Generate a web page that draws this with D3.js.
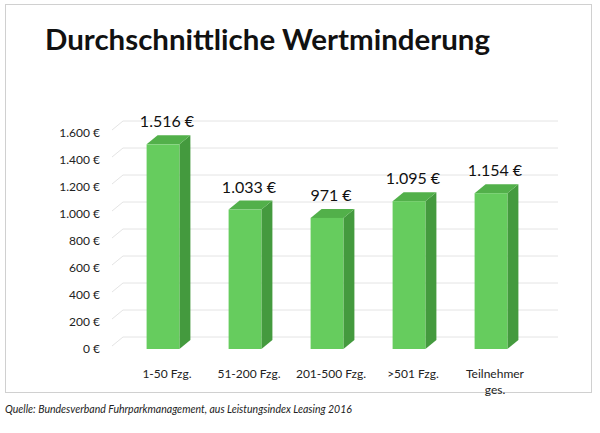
<!DOCTYPE html><html><head><meta charset="utf-8"><script src="https://cdn.jsdelivr.net/npm/d3@7"></script>
<style>body{margin:0;background:#fff}</style></head><body><svg id="c" width="600" height="433"></svg>
<script>
const categories=["1-50 Fzg.","51-200 Fzg.","201-500 Fzg.",">501 Fzg.","Teilnehmer|ges."];
const values=[1516,1033,971,1095,1154];
const valueLabels=["1.516 €","1.033 €","971 €","1.095 €","1.154 €"];
const ticks=[0,200,400,600,800,1000,1200,1400,1600];
const tickLabels=["0 €","200 €","400 €","600 €","800 €","1.000 €","1.200 €","1.400 €","1.600 €"];
const svg=d3.select("#c");const F="Lato,Calibri,sans-serif";
svg.append("rect").attr("x",5.5).attr("y",4.5).attr("width",586).attr("height",388).attr("fill","#fff").attr("stroke","#d0d0d0");
svg.append("text").attr("x",45).attr("y",50).attr("font-family",F).attr("font-weight","bold").attr("font-size",29).attr("fill","#111").attr("textLength",445).attr("lengthAdjust","spacingAndGlyphs").text("Durchschnittliche Wertminderung");
const y=d3.scaleLinear().domain([0,1600]).range([349,133]);
const x=d3.scaleBand().domain(categories).range([122,532]).paddingInner(0.6).paddingOuter(0.3);
const dx=11,dy=9;
ticks.forEach((t,i)=>{const yy=y(t);
 svg.append("line").attr("x1",112).attr("y1",yy-3).attr("x2",112+dx).attr("y2",yy-3-dy).attr("stroke","#e4e4e4");
 svg.append("line").attr("x1",112+dx).attr("y1",yy-3-dy).attr("x2",558).attr("y2",yy-3-dy).attr("stroke","#e4e4e4");
 svg.append("text").attr("x",100).attr("y",yy+4).attr("text-anchor","end").attr("font-family",F).attr("font-size",12).attr("fill","#222").text(tickLabels[i]);});
categories.forEach((c,i)=>{const x0=x(c),w=x.bandwidth(),top=y(values[i]),b=y(0);
 svg.append("path").attr("d",`M${x0+w},${top}L${x0+w+dx},${top-dy}L${x0+w+dx},${b-dy}L${x0+w},${b}Z`).attr("fill","#449a3e");
 svg.append("path").attr("d",`M${x0},${top}L${x0+dx},${top-dy}L${x0+w+dx},${top-dy}L${x0+w},${top}Z`).attr("fill","#52b04a");
 svg.append("rect").attr("x",x0).attr("y",top).attr("width",w).attr("height",b-top).attr("fill","#66cc5e");
 svg.append("text").attr("x",x0+w/2+4).attr("y",top-dy-8).attr("text-anchor","middle").attr("font-family",F).attr("font-size",16).attr("fill","#111").text(valueLabels[i]);
 c.split("|").forEach((s,k)=>svg.append("text").attr("x",x0+w/2+4).attr("y",378+k*16).attr("text-anchor","middle").attr("font-family",F).attr("font-size",12).attr("fill","#222").text(s));});
svg.append("text").attr("x",5).attr("y",413).attr("font-family",F).attr("font-style","italic").attr("font-size",10.5).attr("fill","#222").text("Quelle: Bundesverband Fuhrparkmanagement, aus Leistungsindex Leasing 2016");
</script></body></html>
